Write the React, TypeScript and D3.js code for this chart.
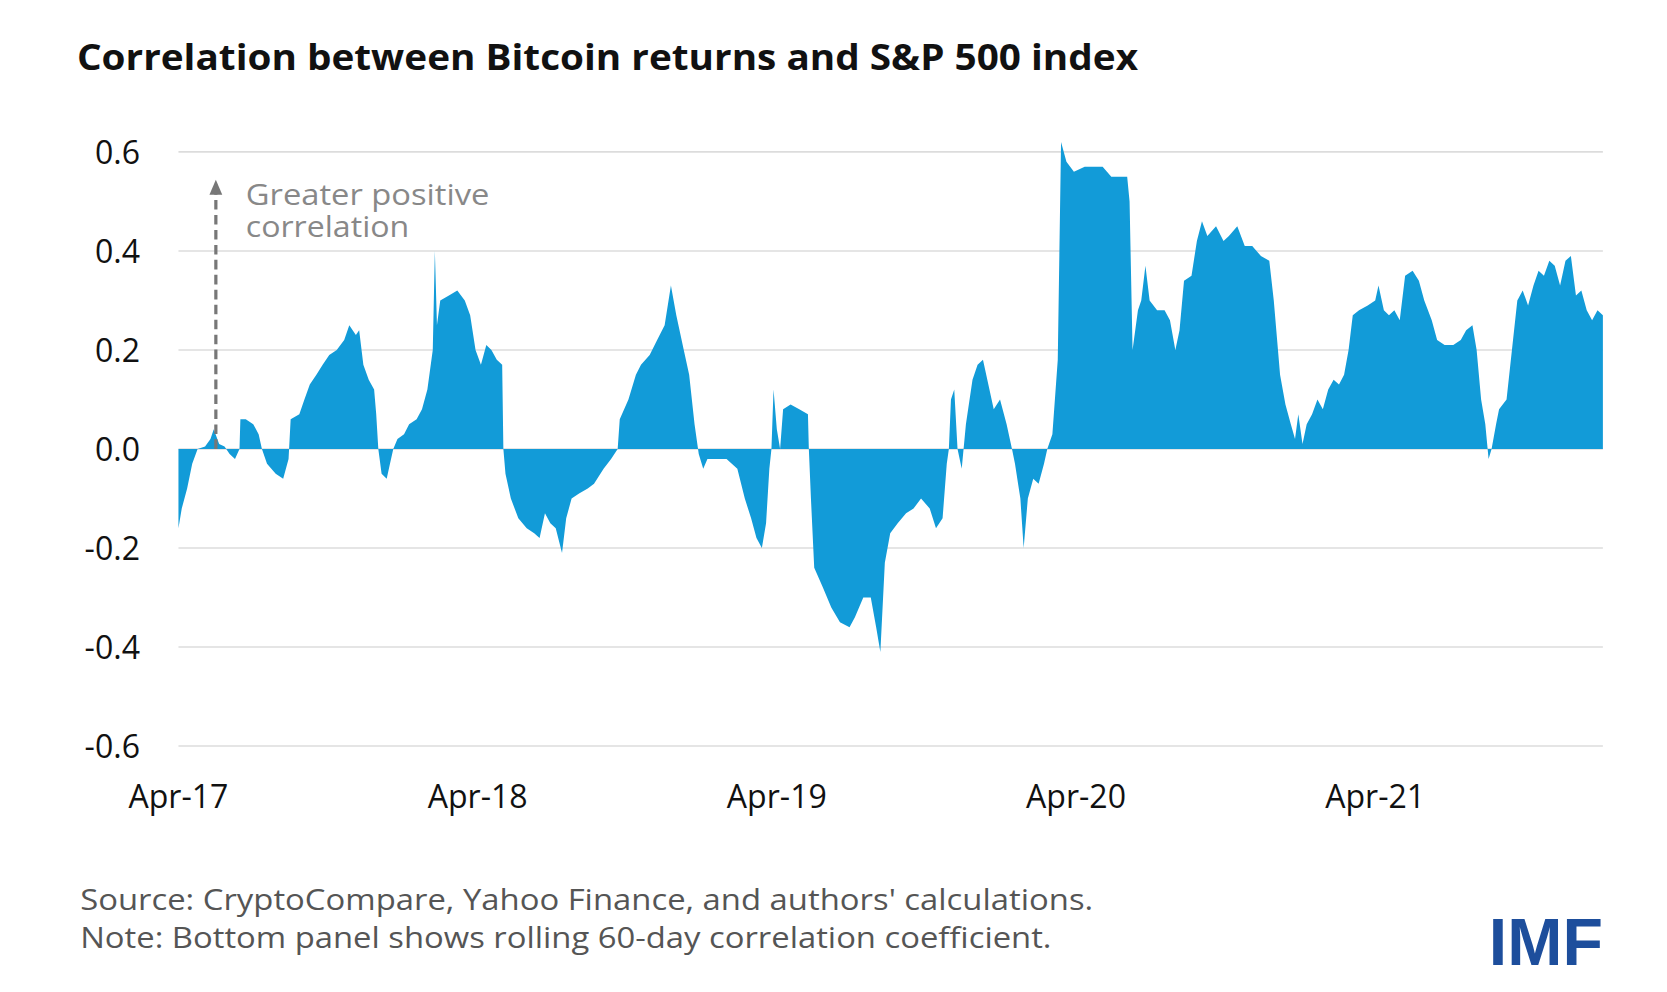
import React, { useEffect, useRef } from 'react';
import * as d3 from 'd3';

// time in fractional years, value = rolling 60-day correlation
const years = [
  2017.25, 2017.261, 2017.279, 2017.296, 2017.314, 2017.339, 2017.357, 2017.368, 2017.386, 2017.404,
  2017.421, 2017.439, 2017.454, 2017.457, 2017.475, 2017.5, 2017.518, 2017.529, 2017.546, 2017.575,
  2017.6, 2017.618, 2017.625, 2017.654, 2017.671, 2017.689, 2017.711, 2017.732, 2017.754, 2017.779,
  2017.804, 2017.821, 2017.843, 2017.854, 2017.868, 2017.886, 2017.904, 2017.911, 2017.918, 2017.929,
  2017.946, 2017.957, 2017.968, 2017.982, 2018.004, 2018.021, 2018.046, 2018.064, 2018.082, 2018.1,
  2018.107, 2018.114, 2018.125, 2018.154, 2018.182, 2018.207, 2018.225, 2018.243, 2018.261, 2018.279,
  2018.296, 2018.314, 2018.332, 2018.336, 2018.343, 2018.361, 2018.386, 2018.414, 2018.439, 2018.457,
  2018.475, 2018.493, 2018.511, 2018.532, 2018.546, 2018.564, 2018.589, 2018.618, 2018.639, 2018.671,
  2018.696, 2018.718, 2018.725, 2018.754, 2018.779, 2018.796, 2018.825, 2018.85, 2018.875, 2018.896,
  2018.914, 2018.939, 2018.957, 2018.975, 2018.989, 2019.004, 2019.018, 2019.046, 2019.082, 2019.118,
  2019.143, 2019.164, 2019.182, 2019.2, 2019.214, 2019.225, 2019.232, 2019.239, 2019.25, 2019.261,
  2019.271, 2019.296, 2019.325, 2019.354, 2019.357, 2019.364, 2019.375, 2019.404, 2019.432, 2019.461,
  2019.493, 2019.511, 2019.539, 2019.564, 2019.582, 2019.596, 2019.611, 2019.629, 2019.654, 2019.682,
  2019.707, 2019.732, 2019.761, 2019.782, 2019.804, 2019.818, 2019.825, 2019.832, 2019.843, 2019.854,
  2019.868, 2019.882, 2019.904, 2019.921, 2019.939, 2019.957, 2019.975, 2019.996, 2020.018, 2020.036,
  2020.046, 2020.064, 2020.075, 2020.089, 2020.107, 2020.125, 2020.143, 2020.154, 2020.171, 2020.189,
  2020.2, 2020.218, 2020.243, 2020.279, 2020.314, 2020.339, 2020.368, 2020.404, 2020.421, 2020.429,
  2020.439, 2020.457, 2020.468, 2020.482, 2020.496, 2020.521, 2020.546, 2020.564, 2020.582, 2020.596,
  2020.611, 2020.636, 2020.654, 2020.671, 2020.689, 2020.718, 2020.743, 2020.761, 2020.789, 2020.814,
  2020.839, 2020.868, 2020.896, 2020.911, 2020.932, 2020.95, 2020.968, 2020.982, 2020.993, 2021.007,
  2021.021, 2021.039, 2021.057, 2021.075, 2021.093, 2021.111, 2021.129, 2021.146, 2021.161, 2021.175,
  2021.196, 2021.225, 2021.25, 2021.261, 2021.279, 2021.296, 2021.314, 2021.332, 2021.35, 2021.375,
  2021.396, 2021.414, 2021.439, 2021.457, 2021.482, 2021.511, 2021.536, 2021.554, 2021.575, 2021.589,
  2021.604, 2021.618, 2021.629, 2021.639, 2021.654, 2021.664, 2021.689, 2021.707, 2021.725, 2021.743,
  2021.761, 2021.779, 2021.796, 2021.814, 2021.832, 2021.85, 2021.868, 2021.886, 2021.904, 2021.921,
  2021.939, 2021.957, 2021.975, 2021.993, 2022.011,
];
const correlation = [
  -0.16, -0.12, -0.08, -0.03, 0.0, 0.005, 0.02, 0.04, 0.01, 0.005,
  -0.01, -0.02, 0.0, 0.06, 0.06, 0.05, 0.03, 0.0, -0.03, -0.05,
  -0.06, -0.02, 0.06, 0.07, 0.1, 0.13, 0.15, 0.17, 0.19, 0.2,
  0.22, 0.25, 0.23, 0.24, 0.17, 0.14, 0.12, 0.07, 0.0, -0.05,
  -0.06, -0.03, 0.0, 0.02, 0.03, 0.05, 0.06, 0.08, 0.12, 0.2,
  0.4, 0.25, 0.3, 0.31, 0.32, 0.3, 0.27, 0.2, 0.17, 0.21,
  0.2, 0.18, 0.17, 0.0, -0.05, -0.1, -0.14, -0.16, -0.17, -0.18,
  -0.13, -0.15, -0.16, -0.21, -0.14, -0.1, -0.09, -0.08, -0.07, -0.04,
  -0.02, 0.0, 0.06, 0.1, 0.15, 0.17, 0.19, 0.22, 0.25, 0.33,
  0.27, 0.2, 0.15, 0.05, -0.01, -0.04, -0.02, -0.02, -0.02, -0.04,
  -0.1, -0.14, -0.18, -0.2, -0.15, -0.04, 0.0, 0.12, 0.04, 0.0,
  0.08, 0.09, 0.08, 0.07, 0.0, -0.1, -0.24, -0.28, -0.32, -0.35,
  -0.36, -0.34, -0.3, -0.3, -0.36, -0.41, -0.23, -0.17, -0.15, -0.13,
  -0.12, -0.1, -0.12, -0.16, -0.14, -0.03, 0.0, 0.1, 0.12, 0.0,
  -0.04, 0.05, 0.14, 0.17, 0.18, 0.13, 0.08, 0.1, 0.05, 0.0,
  -0.03, -0.1, -0.2, -0.1, -0.06, -0.07, -0.03, 0.0, 0.03, 0.18,
  0.62, 0.58, 0.56, 0.57, 0.57, 0.57, 0.55, 0.55, 0.55, 0.5,
  0.2, 0.28, 0.3, 0.37, 0.3, 0.28, 0.28, 0.26, 0.2, 0.24,
  0.34, 0.35, 0.42, 0.46, 0.43, 0.45, 0.42, 0.43, 0.45, 0.41,
  0.41, 0.39, 0.38, 0.3, 0.15, 0.09, 0.05, 0.02, 0.07, 0.01,
  0.05, 0.07, 0.1, 0.08, 0.12, 0.14, 0.13, 0.15, 0.2, 0.27,
  0.28, 0.29, 0.3, 0.33, 0.28, 0.27, 0.28, 0.26, 0.35, 0.36,
  0.34, 0.3, 0.26, 0.22, 0.21, 0.21, 0.22, 0.24, 0.25, 0.2,
  0.1, 0.05, -0.02, 0.0, 0.05, 0.08, 0.1, 0.2, 0.3, 0.32,
  0.29, 0.33, 0.36, 0.35, 0.38, 0.37, 0.33, 0.38, 0.39, 0.31,
  0.32, 0.28, 0.26, 0.28, 0.27,
];
const yTicks = [0.6, 0.4, 0.2, 0.0, -0.2, -0.4, -0.6];
const xTickYears = [2017.25, 2018.25, 2019.25, 2020.25, 2021.25];
const xTickLabels = ['Apr-17', 'Apr-18', 'Apr-19', 'Apr-20', 'Apr-21'];

const W = 1560;
const H = 928;
const FONT = '"Open Sans", "Noto Sans", sans-serif';

const App: React.FC = () => {
  const svgRef = useRef<SVGSVGElement>(null);

  useEffect(() => {
    if (!svgRef.current) return;
    const svg = d3.select(svgRef.current).html('');
    const left = 167, right = 1500, top = 142, bottom = 698;

    const x = d3.scaleLinear().domain([2017.25, 2022.011]).range([left, right]);
    const y = d3.scaleLinear().domain([-0.6, 0.6]).range([bottom, top]);

    svg.append('text')
      .attr('x', 72).attr('y', 65)
      .attr('font-family', FONT).attr('font-weight', 700).attr('font-size', 34)
      .attr('fill', '#111')
      .attr('textLength', 993).attr('lengthAdjust', 'spacingAndGlyphs')
      .text('Correlation between Bitcoin returns and S&P 500 index');

    // grid + y labels
    yTicks.forEach(t => {
      svg.append('line')
        .attr('x1', left).attr('x2', right).attr('y1', y(t)).attr('y2', y(t))
        .attr('stroke', '#dcdcdc').attr('stroke-width', 1.5);
      svg.append('text')
        .attr('x', 131).attr('y', y(t) + 11)
        .attr('text-anchor', 'end')
        .attr('font-family', FONT).attr('font-size', 30).attr('fill', '#111')
        .text(t.toFixed(1));
    });

    const pts = years.map((yr, i) => ({ t: yr, v: correlation[i] }));
    const area = d3.area<{ t: number; v: number }>()
      .x(d => x(d.t))
      .y0(y(0))
      .y1(d => y(d.v));
    svg.append('path').datum(pts).attr('d', area as any).attr('fill', '#129bd8');

    // x labels
    xTickYears.forEach((t, i) => {
      svg.append('text')
        .attr('x', x(t)).attr('y', 756)
        .attr('text-anchor', 'middle')
        .attr('font-family', FONT).attr('font-size', 30).attr('fill', '#111')
        .text(xTickLabels[i]);
    });

    // annotation arrow
    svg.append('line')
      .attr('x1', 202).attr('x2', 202).attr('y1', y(0)).attr('y2', 180)
      .attr('stroke', '#777').attr('stroke-width', 3).attr('stroke-dasharray', '9 5');
    svg.append('path')
      .attr('d', 'M196,182 L202,168 L208,182 Z')
      .attr('fill', '#777');
    svg.append('text').attr('x', 230).attr('y', 192)
      .attr('font-family', FONT).attr('font-size', 27).attr('fill', '#888')
      .attr('textLength', 228).attr('lengthAdjust', 'spacingAndGlyphs')
      .text('Greater positive');
    svg.append('text').attr('x', 230).attr('y', 222)
      .attr('font-family', FONT).attr('font-size', 27).attr('fill', '#888')
      .attr('textLength', 153).attr('lengthAdjust', 'spacingAndGlyphs')
      .text('correlation');

    svg.append('text').attr('x', 75).attr('y', 851)
      .attr('font-family', FONT).attr('font-size', 28).attr('fill', '#555')
      .attr('textLength', 948).attr('lengthAdjust', 'spacingAndGlyphs')
      .text("Source: CryptoCompare, Yahoo Finance, and authors' calculations.");
    svg.append('text').attr('x', 75).attr('y', 887)
      .attr('font-family', FONT).attr('font-size', 28).attr('fill', '#555')
      .attr('textLength', 909).attr('lengthAdjust', 'spacingAndGlyphs')
      .text('Note: Bottom panel shows rolling 60-day correlation coefficient.');

    svg.append('text').attr('x', 1500).attr('y', 903)
      .attr('text-anchor', 'end')
      .attr('font-family', '"Liberation Sans", Arial, sans-serif').attr('font-weight', 700)
      .attr('font-size', 62).attr('fill', '#1d4e9c')
      .text('IMF');
  }, []);

  return (
    <svg
      ref={svgRef}
      width={1667}
      height={992}
      viewBox={`0 0 ${W} ${H}`}
      style={{ position: 'absolute', left: 0, top: 0, background: '#fff' }}
    />
  );
};

export default App;
